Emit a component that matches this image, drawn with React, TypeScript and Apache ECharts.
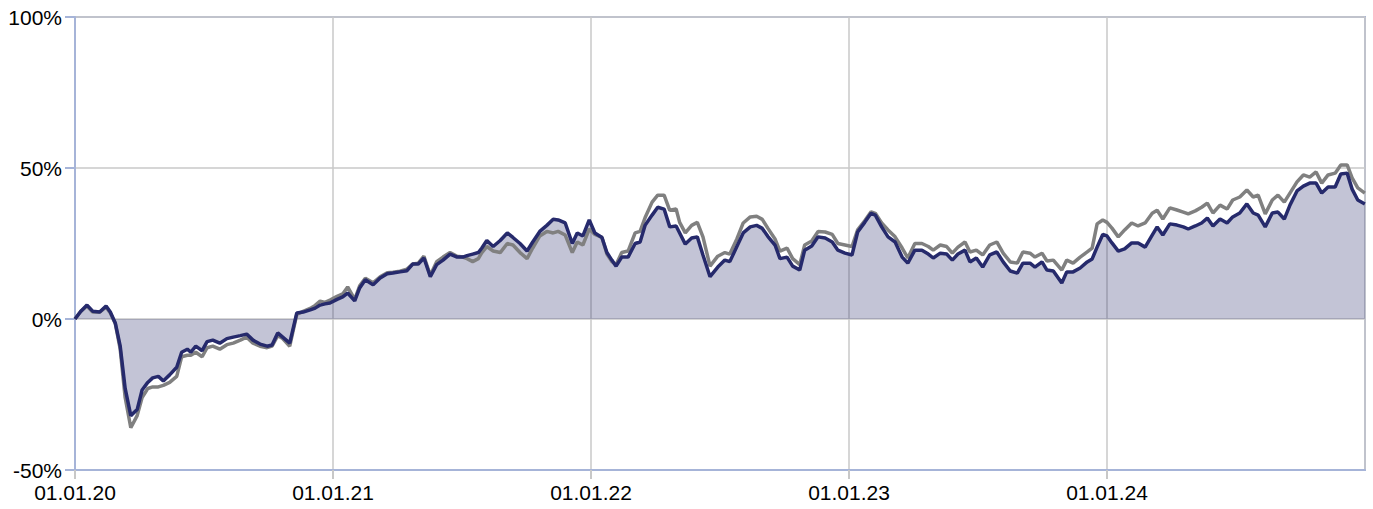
import { useEffect, useRef } from "react";
import * as echarts from "echarts";

// Day offsets since 01.01.2020
const DAYS = [
  0, 8, 17, 25, 35, 44, 50, 57, 64, 71,
  79, 88, 95, 103, 110, 118, 125, 134, 144, 151,
  159, 164, 171, 180, 187, 195, 205, 215, 224, 234,
  243, 252, 262, 272, 279, 287, 294, 304, 314, 323,
  333, 340, 347, 354, 361, 371, 379, 386, 396, 403,
  411, 422, 432, 442, 450, 460, 470, 478, 486, 494,
  503, 512, 521, 531, 541, 549, 555, 563, 571, 576,
  583, 592, 602, 612, 620, 630, 640, 648, 658, 668,
  677, 684, 694, 704, 711, 719, 728, 736, 746, 753,
  760, 766, 774, 783, 793, 800, 807, 817, 825, 834,
  842, 851, 856, 864, 873, 881, 889, 899, 910, 920,
  927, 937, 946, 956, 965, 973, 981, 991, 998, 1008,
  1016, 1026, 1033, 1043, 1052, 1062, 1072, 1080, 1090, 1100,
  1108, 1118, 1127, 1133, 1142, 1151, 1161, 1171, 1179, 1189,
  1199, 1208, 1215, 1225, 1234, 1242, 1250, 1260, 1267, 1276,
  1285, 1295, 1305, 1314, 1324, 1334, 1342, 1352, 1359, 1369,
  1376, 1385, 1397, 1404, 1413, 1423, 1433, 1440, 1447, 1455,
  1461, 1468, 1477, 1486, 1496, 1505, 1515, 1525, 1532, 1540,
  1550, 1560, 1569, 1576, 1586, 1595, 1603, 1611, 1621, 1631,
  1639, 1649, 1659, 1668, 1675, 1685, 1695, 1703, 1712, 1720,
  1730, 1739, 1748, 1757, 1765, 1774, 1784, 1792, 1801, 1808,
  1816, 1826,
];

// Fund performance (%)
const FUND = [
  0, 2.5, 4.6, 2.6, 2.3, 4.3, 2.3, -1.3, -9, -23,
  -32, -30, -23.5, -21, -19.5, -19, -20.5, -18.5, -16, -11,
  -10, -11, -9, -10.5, -7.5, -7, -8, -6.5, -6, -5.5,
  -5, -7, -8.3, -9, -8.6, -4.6, -6, -8, 2, 2.3,
  3, 3.6, 4.6, 5, 5.3, 6.5, 7.3, 8.6, 6, 10.3,
  13, 11.3, 13.6, 15, 15.2, 15.6, 16, 18.2, 18.2, 20.2,
  14, 18, 19.5, 21.5, 20.5, 20.5, 21, 21.5, 22, 23.5,
  26, 24, 26, 28.5, 27, 25, 22.5, 25.5, 29, 31,
  33, 32.8, 31.8, 25, 28.5, 27.5, 32.8, 28.5, 27, 22,
  19.5, 17.5, 20.5, 20.5, 25, 25.5, 31, 34.4, 37, 36.4,
  30.5, 30.8, 28.5, 24.8, 26.8, 27.2, 21.2, 14, 17.2, 19.5,
  19, 24, 28.5, 30.5, 31, 30, 27.3, 24.5, 20, 20.5,
  17.5, 16.2, 22.8, 24.2, 27.2, 26.8, 25.5, 22.8, 21.8, 21.2,
  28.8, 32, 35, 34.4, 30.5, 27.2, 25.5, 20.5, 18.5, 22.8,
  22.8, 21.5, 20.2, 21.8, 21.5, 19.5, 21.5, 22.8, 18.9, 20.2,
  17.2, 21.2, 22.2, 18.9, 15.9, 15.2, 18.5, 18.5, 17.2, 18.9,
  16.2, 15.9, 11.9, 15.6, 15.6, 16.9, 18.9, 19.9, 23.8, 28,
  27.5, 25.2, 22.5, 23.2, 25.2, 25.2, 23.8, 27.8, 30.5, 27.8,
  31.5, 31.1, 30.5, 29.8, 30.8, 31.8, 33.4, 30.8, 33.1, 31.8,
  33.8, 35.1, 38.1, 35.1, 34.4, 30.5, 35.1, 35.4, 33.1, 37.7,
  42.4, 44, 45, 45, 41.7, 43.7, 43.7, 48, 48.3, 43,
  39.4, 38.1,
];

// Benchmark performance (%)
const BENCH = [
  0, 2.5, 4.3, 2.3, 2.3, 4, 2, -1.5, -10, -26,
  -36, -32, -26, -23, -22.5, -22.5, -22, -21, -19, -12.5,
  -12, -12, -11, -12.5, -9.5, -9, -10, -8.5, -8, -7,
  -6, -8, -9, -9.5, -9, -5.5, -6.5, -9, 1.5, 2.5,
  3.5, 4.5, 5.9, 5.5, 6.3, 7.5, 8.3, 10.6, 6.5, 11,
  13.5, 12, 14, 15.3, 15.5, 15.8, 16.5, 18.2, 18.5, 20.8,
  14.5, 19, 20.5, 22, 20.8, 20.5, 20, 19, 20, 22,
  24, 22.5, 22, 25, 24.5, 22, 20, 23.5, 27.5, 29,
  28.5, 29, 27.8, 22, 25.5, 24.5, 29.8, 28, 27, 21.5,
  19, 18, 22, 22.5, 28.5, 29, 33.5, 38.7, 41, 41,
  36, 36.4, 32, 28.5, 31, 32, 27.2, 17.5, 20.8, 22,
  21.5, 26.5, 31.8, 33.8, 34, 33, 30, 26.5, 22.5, 23.5,
  20, 18, 24.5, 25.8, 29, 28.8, 28, 25, 24.5, 24,
  29.5, 32.5, 35.5, 35, 31.8, 29.5, 27.2, 23.5, 20.2, 25,
  25, 24, 22.8, 24.5, 24, 21.8, 23.8, 25.5, 22.2, 22.8,
  21.2, 24.5, 25.5, 21.8, 18.9, 18.5, 22.2, 21.8, 20.5, 21.8,
  19.2, 19.5, 16.2, 19.5, 18.5, 20.5, 22.2, 23.5, 31.5, 32.8,
  32, 30.1, 27.2, 29.5, 31.8, 30.8, 31.8, 35, 36, 33.1,
  36.8, 36.1, 35.4, 34.8, 35.8, 37, 38.4, 35.1, 37.7, 36.4,
  39.4, 40.4, 42.7, 40.4, 41, 34.8, 39.4, 41, 38.7, 41.7,
  45.4, 47.7, 47, 48.7, 45, 47.7, 48.3, 51, 51, 46.7,
  43.4, 41.7,
];

const YEAR_LABELS = ["01.01.20", "01.01.21", "01.01.22", "01.01.23", "01.01.24"];
const Y_MIN = -50;
const Y_MAX = 100;
const Y_STEP = 50;
const YEAR_DAYS = 365.25;

const NAVY = "#262a6c";
const GRAY = "#808080";
const BLUE = "#a6b4d8";
const GRID = "#c8c8c8";

export default function App() {
  const ref = useRef<HTMLDivElement>(null);

  useEffect(() => {
    const chart = echarts.init(ref.current!, null, { renderer: "svg" });
    const n = Math.min(DAYS.length, FUND.length, BENCH.length);
    const fund = [] as number[][];
    const bench = [] as number[][];
    for (let i = 0; i < n; i++) {
      fund.push([DAYS[i], FUND[i]]);
      bench.push([DAYS[i], BENCH[i]]);
    }

    chart.setOption({
      animation: false,
      textStyle: { fontFamily: "'Liberation Sans', Arial, sans-serif" },
      grid: {
        left: 75,
        right: 8,
        top: 17,
        bottom: 39,
        show: true,
        borderColor: BLUE,
        borderWidth: 2,
        backgroundColor: "transparent",
      },
      xAxis: {
        type: "value",
        min: 0,
        max: YEAR_LABELS.length * YEAR_DAYS,
        interval: YEAR_DAYS,
        axisLine: { show: true, onZero: false, lineStyle: { color: BLUE, width: 2 } },
        axisTick: { show: true, length: 9, lineStyle: { color: GRID, width: 2 } },
        axisLabel: {
          formatter: (v: number) => YEAR_LABELS[Math.round(v / YEAR_DAYS)] ?? "",
          fontSize: 21,
          color: "#000",
          margin: 12,
          showMaxLabel: false,
        },
        splitLine: { show: true, lineStyle: { color: GRID, width: 1.5 } },
      },
      yAxis: {
        type: "value",
        min: Y_MIN,
        max: Y_MAX,
        interval: Y_STEP,
        axisLine: { show: true, lineStyle: { color: BLUE, width: 2 } },
        axisTick: { show: true, length: 10, lineStyle: { color: BLUE, width: 2 } },
        axisLabel: {
          formatter: "{value}%",
          fontSize: 21,
          color: "#000",
          margin: 13,
        },
        splitLine: { show: true, lineStyle: { color: GRID, width: 1.5 } },
      },
      series: [
        {
          name: "area",
          type: "line",
          data: fund,
          symbol: "none",
          lineStyle: { width: 0 },
          areaStyle: { color: "rgba(38,42,108,0.28)", opacity: 1, origin: 0 },
          silent: true,
        },
        {
          name: "Benchmark",
          type: "line",
          data: bench,
          symbol: "none",
          lineStyle: { color: GRAY, width: 3.5 },
          itemStyle: { color: GRAY },
        },
        {
          name: "Fonds",
          type: "line",
          data: fund,
          symbol: "none",
          lineStyle: { color: NAVY, width: 3.5 },
          itemStyle: { color: NAVY },
        },
      ],
    });

    return () => chart.dispose();
  }, []);

  return (
    <div
      ref={ref}
      style={{ position: "absolute", left: 0, top: 0, width: 1373, height: 509 }}
    />
  );
}
